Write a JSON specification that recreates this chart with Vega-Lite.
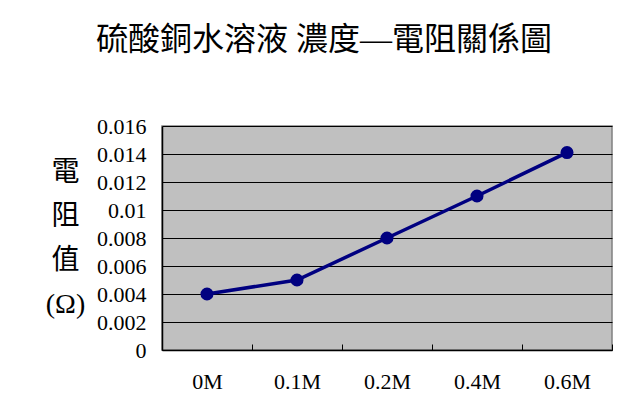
{
  "$schema": "https://vega.github.io/schema/vega-lite/v6.json",
  "autosize": {"type": "none"},
  "width": 450,
  "height": 224,
  "padding": {"left": 162, "top": 126, "right": 25, "bottom": 60},
  "background": "white",
  "title": {
    "text": "硫酸銅水溶液 濃度—電阻關係圖",
    "font": "Liberation Serif, Noto Sans CJK TC",
    "fontSize": 32,
    "fontWeight": "normal",
    "color": "black",
    "anchor": "middle",
    "dx": -63,
    "offset": 58
  },
  "config": {
    "view": {"fill": "#C0C0C0", "stroke": "#808080", "strokeWidth": 1.5},
    "axis": {"labelFontSize": 22, "labelFont": "Liberation Serif", "labelColor": "black"}
  },
  "data": {
    "values": [
      {"conc": "0M", "r": 0.004},
      {"conc": "0.1M", "r": 0.005},
      {"conc": "0.2M", "r": 0.008},
      {"conc": "0.4M", "r": 0.011},
      {"conc": "0.6M", "r": 0.0141}
    ]
  },
  "mark": {"type": "line", "color": "#000080", "strokeWidth": 3.5, "point": {"filled": true, "size": 170, "color": "#000080", "opacity": 1}},
  "encoding": {
    "x": {
      "field": "conc",
      "type": "ordinal",
      "sort": null,
      "scale": {"paddingInner": 0, "paddingOuter": 0},
      "axis": {
        "title": null,
        "labelAngle": 0,
        "labelFontSize": 22,
        "labelPadding": 27,
        "domainColor": "black",
        "domainWidth": 1.5,
        "tickBand": "extent",
        "tickSize": -6,
        "tickColor": "black",
        "tickWidth": 1
      }
    },
    "y": {
      "field": "r",
      "type": "quantitative",
      "scale": {"domain": [0, 0.016]},
      "axis": {
        "values": [0, 0.002, 0.004, 0.006, 0.008, 0.01, 0.012, 0.014, 0.016],
        "format": "~g",
        "labelFontSize": 22,
        "labelPadding": 16,
        "ticks": false,
        "domainColor": "black",
        "domainWidth": 1.5,
        "gridColor": "black",
        "gridWidth": 1,
        "gridOpacity": 1,
        "title": ["電", "阻", "值", "(Ω)"],
        "titleFont": "Liberation Serif, Noto Sans CJK TC",
        "titleFontSize": 28,
        "titleFontWeight": "normal",
        "titleColor": "black",
        "titleAngle": 0,
        "titleAlign": "center",
        "titleBaseline": "middle",
        "titleLineHeight": 44,
        "titleX": -97,
        "titleY": 46
      }
    }
  }
}
